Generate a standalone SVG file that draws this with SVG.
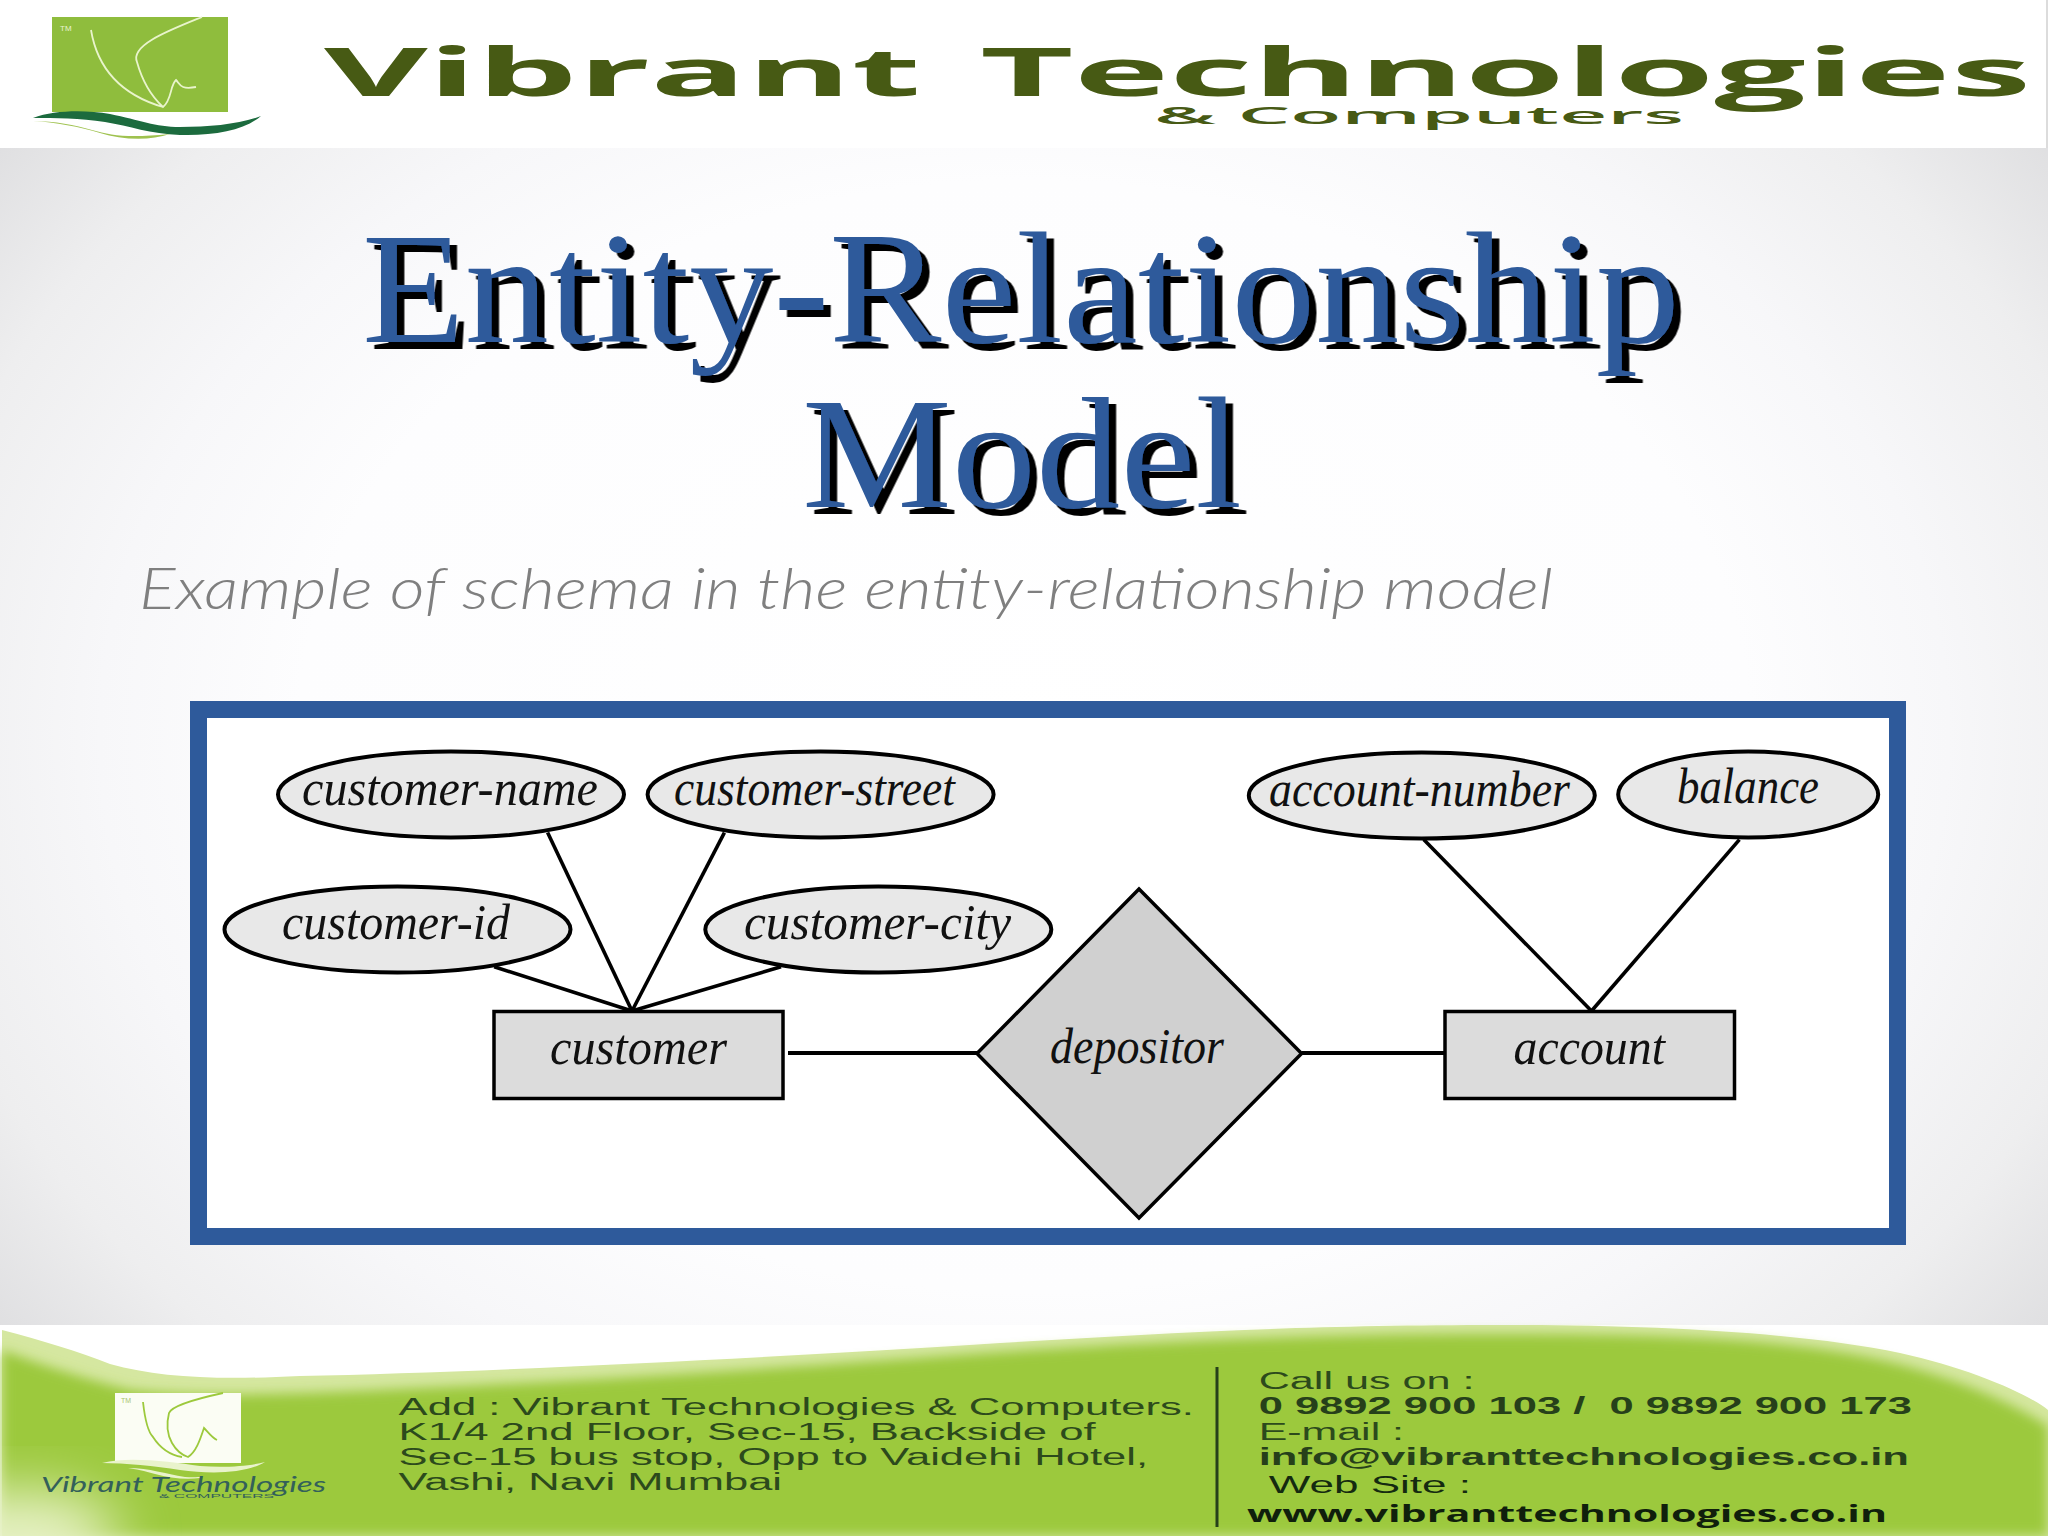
<svg xmlns="http://www.w3.org/2000/svg" width="2048" height="1536" viewBox="0 0 2048 1536">
<style>
.attr{fill:#e8e8e8;stroke:#000;stroke-width:4}
.ent{fill:#dcdcdc;stroke:#000;stroke-width:3.5}
.rel{fill:#d0d0d0;stroke:#000;stroke-width:3.5}
.lab{font-family:"Liberation Serif",serif;font-style:italic;font-size:50px;fill:#111}
#connectors line{stroke:#000;stroke-width:3.6}
.title{font-family:"Liberation Serif",serif;font-size:159px;fill:#2e5a9b;filter:url(#shadow)}
.hd{font-family:"Open Sans",sans-serif;font-weight:700;font-size:66px;fill:#475a14}
.ft{font-family:"Liberation Sans",sans-serif;font-size:23px;fill:#2c4a1c;white-space:pre}
.fb{font-family:"Liberation Sans",sans-serif;font-weight:bold;font-size:23px;fill:#26401a;white-space:pre}
</style>
<defs>
<radialGradient id="bg" gradientUnits="userSpaceOnUse" cx="0" cy="0" r="1" gradientTransform="translate(1024 736) scale(1320 1010)">
<stop offset="0" stop-color="#fff"/><stop offset="0.55" stop-color="#fdfdfe"/><stop offset="0.7" stop-color="#f7f7f9"/><stop offset="0.85" stop-color="#eeeeef"/><stop offset="1" stop-color="#dcdcde"/>
</radialGradient>
<filter id="shadow" x="-5%" y="-10%" width="110%" height="125%"><feDropShadow dx="7.5" dy="7" stdDeviation="0" flood-color="#000"/></filter>
<filter id="soft" x="-5%" y="-10%" width="110%" height="120%"><feGaussianBlur stdDeviation="6"/></filter>
<filter id="glow" x="-50%" y="-50%" width="200%" height="200%"><feGaussianBlur stdDeviation="28"/></filter>
</defs>

<rect width="2048" height="1536" fill="#fff"/>
<rect x="0" y="148" width="2048" height="1177" fill="url(#bg)"/>

<g id="header">
<rect x="2046" y="0" width="2" height="148" fill="#dcdcdc"/>
<rect x="52" y="17" width="176" height="95" fill="#8fbd3d"/>
<text x="60" y="31" font-family="Liberation Sans, sans-serif" font-size="8" fill="#e8f3cf">TM</text>
<path d="M91 30C96 60 112 92 163 107M202 17C170 30 130 45 137 62C142 80 150 95 163 107C172 100 170 85 176 80C180 84 180 90 196 87" fill="none" stroke="#e9f4cc" stroke-width="1.8"/>
<path d="M33 118C55 110 85 110 110 114C140 120 155 127 180 127C210 127 240 124 261 116C245 130 215 136 180 135C150 134 130 126 105 122C80 118 55 118 33 118Z" fill="#1c6b3e"/>
<path d="M33 121C55 121 75 125 92 130C112 136 130 138 170 134C150 141 122 140 100 133C80 127 55 122 33 121Z" fill="#9fc24f"/>
<text class="hd" x="324" y="96" textLength="597" lengthAdjust="spacingAndGlyphs">Vibrant</text>
<text class="hd" x="980" y="96" textLength="1051" lengthAdjust="spacingAndGlyphs">Technologies</text>
<text x="1154" y="124" font-family="Open Sans, sans-serif" font-weight="600" font-size="24" fill="#475a14" textLength="530" lengthAdjust="spacingAndGlyphs">&amp; Computers</text>
</g>

<g id="title-block">
<text class="title" x="362" y="342" textLength="1318" lengthAdjust="spacingAndGlyphs">Entity-Relationship</text>
<text class="title" x="802" y="507" textLength="440" lengthAdjust="spacingAndGlyphs">Model</text>
<text x="139" y="609" font-family="Lato, sans-serif" font-style="italic" font-weight="300" font-size="57" fill="#7f7f7f" textLength="1414" lengthAdjust="spacingAndGlyphs">Example of schema in the entity-relationship model</text>
</g>

<rect id="frame" x="198.500" y="709.500" width="1699" height="527" fill="#fff" stroke="#2e5a9b" stroke-width="17"/>

<g id="connectors">
<line x1="547.600" y1="832.600" x2="632" y2="1011"/>
<line x1="724.400" y1="832.600" x2="632" y2="1011"/>
<line x1="494.200" y1="966.700" x2="632" y2="1011"/>
<line x1="781" y1="966.700" x2="632" y2="1011"/>
<line x1="788" y1="1053" x2="977" y2="1053" style="stroke-width:4"/>
<line x1="1301.600" y1="1053" x2="1444.800" y2="1053" style="stroke-width:4"/>
<line x1="1423.700" y1="839.600" x2="1591.500" y2="1011"/>
<line x1="1739.400" y1="839.600" x2="1591.500" y2="1011"/>
</g>

<g id="customer-name"><ellipse class="attr" cx="451" cy="794.500" rx="173" ry="43"/><text class="lab" x="302" y="805" textLength="296" lengthAdjust="spacingAndGlyphs">customer-name</text></g>
<g id="customer-street"><ellipse class="attr" cx="820.600" cy="794.500" rx="173" ry="43"/><text class="lab" x="674" y="805" textLength="281" lengthAdjust="spacingAndGlyphs">customer-street</text></g>
<g id="customer-id"><ellipse class="attr" cx="397.500" cy="929.500" rx="173" ry="43"/><text class="lab" x="282" y="938.600" textLength="228" lengthAdjust="spacingAndGlyphs">customer-id</text></g>
<g id="customer-city"><ellipse class="attr" cx="878.300" cy="929.500" rx="173" ry="43"/><text class="lab" x="744" y="938.600" textLength="267" lengthAdjust="spacingAndGlyphs">customer-city</text></g>
<g id="account-number"><ellipse class="attr" cx="1421.800" cy="795.500" rx="173" ry="43"/><text class="lab" x="1269" y="806" textLength="301" lengthAdjust="spacingAndGlyphs">account-number</text></g>
<g id="balance"><ellipse class="attr" cx="1748.200" cy="794.500" rx="130" ry="43"/><text class="lab" x="1677" y="803" textLength="142" lengthAdjust="spacingAndGlyphs">balance</text></g>
<g id="customer"><rect class="ent" x="494" y="1011.500" width="289" height="87"/><text class="lab" x="550" y="1064" textLength="177" lengthAdjust="spacingAndGlyphs">customer</text></g>
<g id="depositor"><polygon class="rel" points="977,1053.500 1139,889 1301.600,1053.500 1139,1218"/><text class="lab" x="1050" y="1062.500" textLength="174" lengthAdjust="spacingAndGlyphs">depositor</text></g>
<g id="account"><rect class="ent" x="1445" y="1011.500" width="289.500" height="87"/><text class="lab" x="1513.500" y="1064" textLength="151.500" lengthAdjust="spacingAndGlyphs">account</text></g>

<g id="footer">
<rect x="0" y="1325" width="2048" height="211" fill="#fff"/>
<path id="band-light" d="M2 1330C40 1340 80 1352 110 1364C160 1378 220 1380 300 1376C500 1372 800 1356 1000 1343C1150 1334 1290 1325 1500 1325C1650 1325 1800 1332 1900 1353C1970 1368 2030 1395 2048 1410V1536H2Z" fill="#d5e7a0"/>
<path id="band-main" d="M2 1350C50 1368 90 1380 130 1390C200 1398 300 1394 420 1388C650 1378 860 1362 1000 1352C1180 1340 1320 1334 1500 1334C1680 1334 1800 1340 1890 1362C1970 1382 2020 1408 2048 1426V1536H2Z" fill="#9cc93c" filter="url(#soft)"/>
<ellipse cx="20" cy="1536" rx="100" ry="45" fill="#e8f2c8" filter="url(#glow)"/>
<rect x="115" y="1393" width="126" height="70" fill="#fbfdf4"/>
<text x="121" y="1403" font-family="Liberation Sans, sans-serif" font-size="7" fill="#a9c56e">TM</text>
<path d="M143 1402C145 1420 148 1432 153 1437C160 1448 170 1455 182 1457M223 1393C200 1398 172 1405 169 1413C166 1425 168 1436 172 1443C176 1450 182 1455 188 1457C196 1452 200 1440 204 1428C208 1432 212 1438 217 1440" fill="none" stroke="#9cc93c" stroke-width="1.8"/>
<path d="M102 1463C130 1456 170 1462 200 1466C225 1468 250 1466 265 1462C245 1474 210 1474 180 1470C155 1466 125 1463 102 1463Z" fill="#e9f3cc"/>
<path d="M128 1468C150 1468 165 1474 185 1477C198 1478 205 1476 200 1478C185 1480 170 1478 155 1474C145 1471 135 1469 128 1468Z" fill="#e9f3cc"/>
<text x="41" y="1492" font-family="Lato, sans-serif" font-style="italic" font-size="22" fill="#33605a" textLength="285" lengthAdjust="spacingAndGlyphs">Vibrant Technologies</text>
<text x="159" y="1498" font-family="Liberation Sans, sans-serif" font-size="5" fill="#33605a" textLength="115" lengthAdjust="spacingAndGlyphs">&amp; COMPUTERS</text>
<text class="ft" x="398.600" y="1415" textLength="795.400" lengthAdjust="spacingAndGlyphs">Add : Vibrant Technologies &amp; Computers.</text>
<text class="ft" x="398.600" y="1440" textLength="697" lengthAdjust="spacingAndGlyphs">K1/4 2nd Floor, Sec-15, Backside of</text>
<text class="ft" x="398.600" y="1465" textLength="749.400" lengthAdjust="spacingAndGlyphs">Sec-15 bus stop, Opp to Vaidehi Hotel,</text>
<text class="ft" x="398.600" y="1490" textLength="383.400" lengthAdjust="spacingAndGlyphs">Vashi, Navi Mumbai</text>
<rect x="1215.500" y="1367" width="3" height="160" fill="#26401a"/>
<text class="ft" x="1258.700" y="1389" textLength="215.900" lengthAdjust="spacingAndGlyphs">Call us on :</text>
<text class="fb" x="1258.700" y="1414" textLength="653.300" lengthAdjust="spacingAndGlyphs">0 9892 900 103 /  0 9892 900 173</text>
<text class="ft" x="1258.700" y="1440" textLength="145.300" lengthAdjust="spacingAndGlyphs">E-mail :</text>
<text class="fb" x="1258.700" y="1465" textLength="650.300" lengthAdjust="spacingAndGlyphs">info@vibranttechnologies.co.in</text>
<text class="ft" x="1268.700" y="1492.700" style="fill:#142a10" textLength="202.300" lengthAdjust="spacingAndGlyphs">Web Site :</text>
<text x="1247" y="1522" font-family="Open Sans, sans-serif" font-weight="700" font-size="23" fill="#101f0c" textLength="640" lengthAdjust="spacingAndGlyphs">www.vibranttechnologies.co.in</text>
</g>
</svg>
